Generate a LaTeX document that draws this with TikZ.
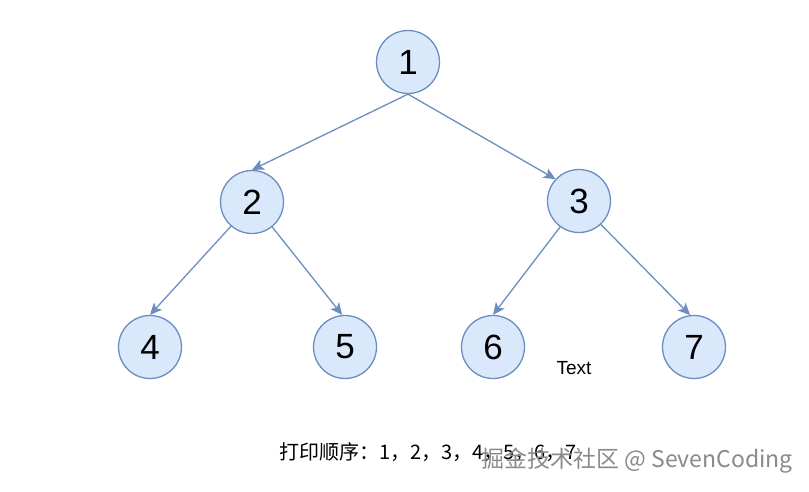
\documentclass[tikz,border=0pt]{standalone}
\usepackage{fontspec}
\setmainfont{Liberation Sans}
\newfontfamily\cjk{Noto Sans CJK SC}
\usetikzlibrary{arrows.meta}
\definecolor{nodefill}{HTML}{DAE8FC}
\definecolor{nodeline}{HTML}{6C8EBF}
\definecolor{wmgray}{HTML}{8A8A8A}
\begin{document}
\begin{tikzpicture}[x=1pt,y=-1pt,
  treenode/.style={circle,draw=nodeline,fill=nodefill,line width=1.3pt,minimum size=63pt,inner sep=0pt,font=\fontsize{35}{35}\selectfont},
  link/.style={draw=nodeline,line width=1.3pt,-{Stealth[length=12pt,width=11pt,inset=3pt]}}]
\useasboundingbox (0,0) rectangle (809,491);
% the tree
\node[treenode] (n1) at (408,62) {1};
\node[treenode] (n2) at (252,202) {2};
\node[treenode] (n3) at (579,201) {3};
\node[treenode] (n4) at (150,347) {4};
\node[treenode] (n5) at (345,347) {5};
\node[treenode] (n6) at (493,347) {6};
\node[treenode] (n7) at (694,347) {7};
\draw[link] (n1.south) -- (n2.north);
\draw[link] (n1.south) -- (n3.137);
\draw[link] (n2.229) -- (n4.north);
\draw[link] (n2.309) -- (n5.95);
\draw[link] (n3.234) -- (n6.north);
\draw[link] (n3.313) -- (n7.97);
\node[font=\fontsize{19}{19}\selectfont] (txt) at (574,368) {Text};
% print order
\node[anchor=west,inner sep=0pt,font=\cjk\fontsize{20}{20}\selectfont] (order) at (279,452) {打印顺序：1，2，3，4，5，6，7};
\node[anchor=east,inner sep=0pt,text=wmgray,font=\cjk\fontsize{23}{23}\selectfont] (mark) at (793,461) {掘金技术社区 @ SevenCoding};
\end{tikzpicture}
\end{document}
